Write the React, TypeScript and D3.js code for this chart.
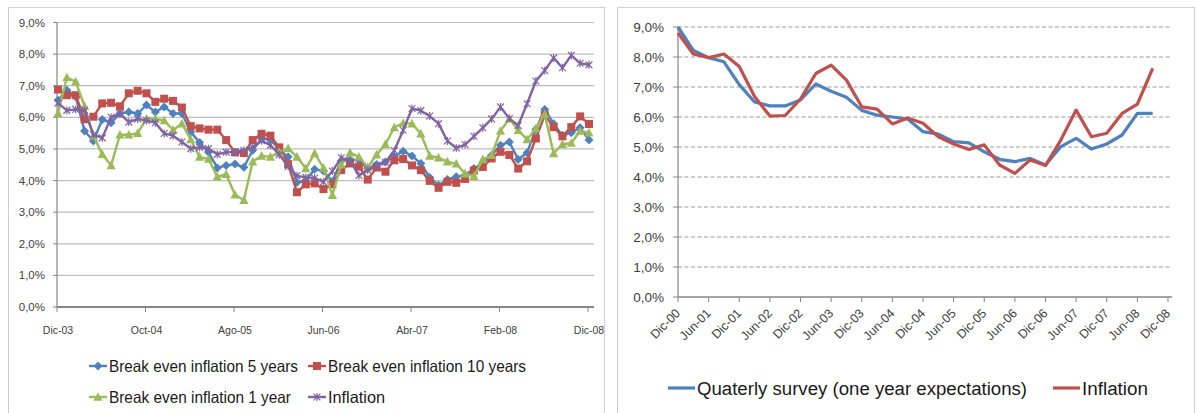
import React from 'react';
import * as d3 from 'd3';

// ---------- Left chart data (monthly, Dic-03 .. Dic-08) ----------
const leftTickLabels = ['Dic-03', 'Oct-04', 'Ago-05', 'Jun-06', 'Abr-07', 'Feb-08', 'Dic-08'];
const be5 = [
  6.54, 6.86, 6.65, 5.57, 5.25, 5.93, 5.83, 6.12, 6.17, 6.12,
  6.39, 6.17, 6.33, 6.12, 6.12, 5.54, 5.20, 4.90, 4.40, 4.48,
  4.52, 4.42, 4.96, 5.32, 5.30, 4.98, 4.75, 3.94, 4.00, 4.36,
  4.30, 3.97, 4.62, 4.65, 4.65, 4.38, 4.51, 4.59, 4.77, 4.93,
  4.78, 4.54, 4.10, 3.85, 4.03, 4.12, 4.17, 4.38, 4.55, 4.80,
  5.12, 5.22, 4.67, 4.88, 5.62, 6.25, 5.80, 5.43, 5.51, 5.67,
  5.28,
];
const be10 = [
  6.88, 6.70, 6.70, 5.94, 6.02, 6.44, 6.46, 6.35, 6.76, 6.84,
  6.76, 6.49, 6.59, 6.52, 6.31, 5.72, 5.65, 5.61, 5.61, 5.28,
  4.89, 4.87, 5.28, 5.48, 5.42, 5.05, 4.52, 3.63, 3.88, 3.91,
  3.73, 3.88, 4.33, 4.54, 4.44, 4.03, 4.41, 4.28, 4.64, 4.68,
  4.48, 4.33, 3.99, 3.77, 3.96, 3.93, 4.05, 4.32, 4.43, 4.70,
  4.91, 4.81, 4.38, 4.61, 5.33, 6.07, 5.69, 5.40, 5.69, 6.03,
  5.79,
];
const be1 = [
  6.12, 7.26, 7.13, 6.35, 5.42, 4.83, 4.48, 5.45, 5.45, 5.50,
  5.95, 5.95, 5.90, 5.60, 5.80, 5.30, 4.75, 4.68, 4.12, 4.20,
  3.55, 3.38, 4.60, 4.78, 4.75, 4.90, 5.02, 4.75, 4.38, 4.86,
  4.40, 3.54, 4.50, 4.88, 4.75, 4.42, 4.82, 5.15, 5.68, 5.82,
  5.80, 5.48, 4.78, 4.72, 4.60, 4.53, 4.22, 4.14, 4.67, 4.80,
  5.57, 5.96, 5.59, 5.30, 5.65, 6.10, 4.86, 5.15, 5.19, 5.57,
  5.51,
];
const inflMonthly = [
  6.45, 6.22, 6.25, 6.22, 5.45, 5.35, 6.00, 6.12, 5.85, 5.95,
  5.90, 5.83, 5.49, 5.42, 5.22, 5.01, 5.05, 5.01, 4.83, 4.90,
  4.90, 4.96, 5.06, 5.26, 5.12, 4.82, 4.45, 4.15, 4.10, 4.08,
  3.96, 4.30, 4.72, 4.62, 4.16, 4.33, 4.46, 4.58, 4.95, 5.59,
  6.28, 6.21, 6.04, 5.80, 5.25, 5.03, 5.14, 5.40, 5.67, 5.95,
  6.33, 5.96, 5.74, 6.43, 7.15, 7.48, 7.88, 7.57, 7.96, 7.71,
  7.66,
];

// ---------- Right chart data (quarterly, Dic-00 .. Sep-08; axis to Dic-08) ----------
const rightTickLabels = [
  'Dic-00', 'Jun-01', 'Dic-01', 'Jun-02', 'Dic-02', 'Jun-03', 'Dic-03', 'Jun-04',
  'Dic-04', 'Jun-05', 'Dic-05', 'Jun-06', 'Dic-06', 'Jun-07', 'Dic-07', 'Jun-08', 'Dic-08',
];
const survey = [
  9.00, 8.22, 7.98, 7.84, 7.08, 6.50, 6.37, 6.37, 6.57, 7.10,
  6.86, 6.66, 6.22, 6.06, 6.00, 5.93, 5.51, 5.43, 5.18, 5.14,
  4.84, 4.59, 4.51, 4.62, 4.40, 5.01, 5.29, 4.93, 5.10, 5.40,
  6.12, 6.12,
];
const inflQuarterly = [
  8.80, 8.10, 7.98, 8.10, 7.68, 6.68, 6.03, 6.05, 6.60, 7.45,
  7.73, 7.23, 6.34, 6.26, 5.77, 5.97, 5.79, 5.34, 5.10, 4.92,
  5.07, 4.40, 4.12, 4.57, 4.38, 5.23, 6.23, 5.34, 5.46, 6.12,
  6.43, 7.62,
];

const yTicks = [0, 1, 2, 3, 4, 5, 6, 7, 8, 9];

const BLUE = '#4F81BD';
const RED = '#C0504D';
const GREEN = '#9BBB59';
const PURPLE = '#8064A2';
const FONT = '"Liberation Sans", Arial, sans-serif';
const TXT = '#404040';

const fmt = (v: number) => v.toFixed(1).replace('.', ',') + '%';

type MarkerKind = 'diamond' | 'square' | 'triangle' | 'star';

function Marker({ kind, x, y, color }: { kind: MarkerKind; x: number; y: number; color: string }) {
  if (kind === 'diamond') {
    return <path d={`M${x},${y - 4.5}L${x + 4.5},${y}L${x},${y + 4.5}L${x - 4.5},${y}Z`} fill={color} />;
  }
  if (kind === 'square') {
    return <rect x={x - 4} y={y - 4} width={8} height={8} fill={color} />;
  }
  if (kind === 'triangle') {
    return <path d={`M${x},${y - 4.8}L${x + 4.6},${y + 3.8}L${x - 4.6},${y + 3.8}Z`} fill={color} />;
  }
  return (
    <path
      d={`M${x - 3.4},${y - 3.4}L${x + 3.4},${y + 3.4}M${x - 3.4},${y + 3.4}L${x + 3.4},${y - 3.4}M${x},${y - 4}L${x},${y + 4}`}
      stroke={color}
      strokeWidth={1.2}
      fill="none"
    />
  );
}

function LeftChart() {
  const x = d3.scaleLinear().domain([0, 60]).range([58, 589]);
  const y = d3.scaleLinear().domain([0, 9]).range([307, 22.5]);
  const line = d3
    .line<number>()
    .x((_, i) => x(i))
    .y((d) => y(d));
  const series: { data: number[]; color: string; marker: MarkerKind; name: string }[] = [
    { data: be5, color: BLUE, marker: 'diamond', name: 'Break even inflation 5 years' },
    { data: be10, color: RED, marker: 'square', name: 'Break even inflation 10 years' },
    { data: be1, color: GREEN, marker: 'triangle', name: 'Break even inflation 1 year' },
    { data: inflMonthly, color: PURPLE, marker: 'star', name: 'Inflation' },
  ];
  const legendPos = [
    { lx: 89, ly: 366, tl: 189 },
    { lx: 308, ly: 366, tl: 198 },
    { lx: 89, ly: 397, tl: 182 },
    { lx: 308, ly: 397, tl: 57 },
  ];
  return (
    <g>
      <rect x={8.5} y={7.5} width={596} height={420} fill="#fff" stroke="#d0d0d0" />
      {yTicks.map((t) => (
        <g key={t}>
          {t > 0 && <line x1={57} x2={594} y1={y(t)} y2={y(t)} stroke="#bdbdbd" strokeWidth={1.2} />}
          <line x1={53} x2={57} y1={y(t)} y2={y(t)} stroke="#868686" />
          <text x={45} y={y(t) + 4} textAnchor="end" fontSize={11.5} fontFamily={FONT} fill={TXT}>
            {fmt(t)}
          </text>
        </g>
      ))}
      <line x1={57} x2={57} y1={y(9)} y2={y(0)} stroke="#868686" strokeWidth={1.2} />
      <line x1={57} x2={594} y1={y(0)} y2={y(0)} stroke="#868686" strokeWidth={1.8} />
      {leftTickLabels.map((lab, i) => (
        <g key={lab}>
          <line x1={x(i * 10) - 1} x2={x(i * 10) - 1} y1={307} y2={312} stroke="#868686" />
          <text x={x(i * 10)} y={334} textAnchor="middle" fontSize={10.5} fontFamily={FONT} fill={TXT}>
            {lab}
          </text>
        </g>
      ))}
      {series.map((s) => (
        <g key={s.name}>
          <path d={line(s.data) || ''} fill="none" stroke={s.color} strokeWidth={2.4} strokeLinejoin="round" />
          {s.data.map((v, i) => (
            <Marker key={i} kind={s.marker} x={x(i)} y={y(v)} color={s.color} />
          ))}
        </g>
      ))}
      {series.map((s, i) => {
        const p = legendPos[i];
        return (
          <g key={'lg' + s.name}>
            <line x1={p.lx} x2={p.lx + 18} y1={p.ly} y2={p.ly} stroke={s.color} strokeWidth={2.4} />
            <Marker kind={s.marker} x={p.lx + 9} y={p.ly} color={s.color} />
            <text
              x={p.lx + 20}
              y={p.ly + 6}
              fontSize={16.5}
              fontFamily={FONT}
              fill="#1a1a1a"
              textLength={p.tl}
              lengthAdjust="spacingAndGlyphs"
            >
              {s.name}
            </text>
          </g>
        );
      })}
    </g>
  );
}

function RightChart() {
  const x = d3.scaleLinear().domain([0, 32]).range([678, 1168]);
  const y = d3.scaleLinear().domain([0, 9]).range([297, 27]);
  const line = d3
    .line<number>()
    .x((_, i) => x(i))
    .y((d) => y(d));
  return (
    <g>
      <rect x={617.5} y={7.5} width={577} height={420} fill="#fff" stroke="#d0d0d0" />
      {yTicks.map((t) => (
        <g key={t}>
          {t > 0 && (
            <line x1={678} x2={1172} y1={y(t)} y2={y(t)} stroke="#9a9a9a" strokeWidth={1} strokeDasharray="4,2.5" />
          )}
          <line x1={673} x2={678} y1={y(t)} y2={y(t)} stroke="#868686" />
          <text x={664} y={y(t) + 5} textAnchor="end" fontSize={13.5} fontFamily={FONT} fill={TXT}>
            {fmt(t)}
          </text>
        </g>
      ))}
      <line x1={678} x2={678} y1={y(9)} y2={y(0)} stroke="#868686" strokeWidth={1.2} />
      <line x1={678} x2={1172} y1={y(0)} y2={y(0)} stroke="#868686" strokeWidth={1.6} />
      {rightTickLabels.map((lab, i) => {
        const tx = x(i * 2);
        return (
          <g key={lab}>
            <line x1={tx} x2={tx} y1={297} y2={302} stroke="#868686" />
            <text
              transform={`translate(${tx + 3},${314}) rotate(-45)`}
              textAnchor="end"
              fontSize={12.5}
              fontFamily={FONT}
              fill={TXT}
            >
              {lab}
            </text>
          </g>
        );
      })}
      <path d={line(survey) || ''} fill="none" stroke={BLUE} strokeWidth={3.2} strokeLinejoin="round" />
      <path d={line(inflQuarterly) || ''} fill="none" stroke={RED} strokeWidth={3.2} strokeLinejoin="round" />
      <line x1={668} x2={695} y1={388} y2={388} stroke={BLUE} strokeWidth={3.2} />
      <text x={697} y={394.5} fontSize={18} fontFamily={FONT} fill="#1a1a1a" textLength={330} lengthAdjust="spacingAndGlyphs">
        Quaterly survey (one year expectations)
      </text>
      <line x1={1053} x2={1080} y1={388} y2={388} stroke={RED} strokeWidth={3.2} />
      <text x={1082} y={394.5} fontSize={18} fontFamily={FONT} fill="#1a1a1a" textLength={66} lengthAdjust="spacingAndGlyphs">
        Inflation
      </text>
    </g>
  );
}

export default function App() {
  return (
    <div style={{ position: 'fixed', left: 0, top: 0, width: 1197, height: 413, background: '#fff' }}>
      <svg width={1197} height={413} viewBox="0 0 1197 413" style={{ display: 'block' }}>
        <rect x={0} y={0} width={1197} height={413} fill="#fff" />
        <LeftChart />
        <RightChart />
      </svg>
    </div>
  );
}
